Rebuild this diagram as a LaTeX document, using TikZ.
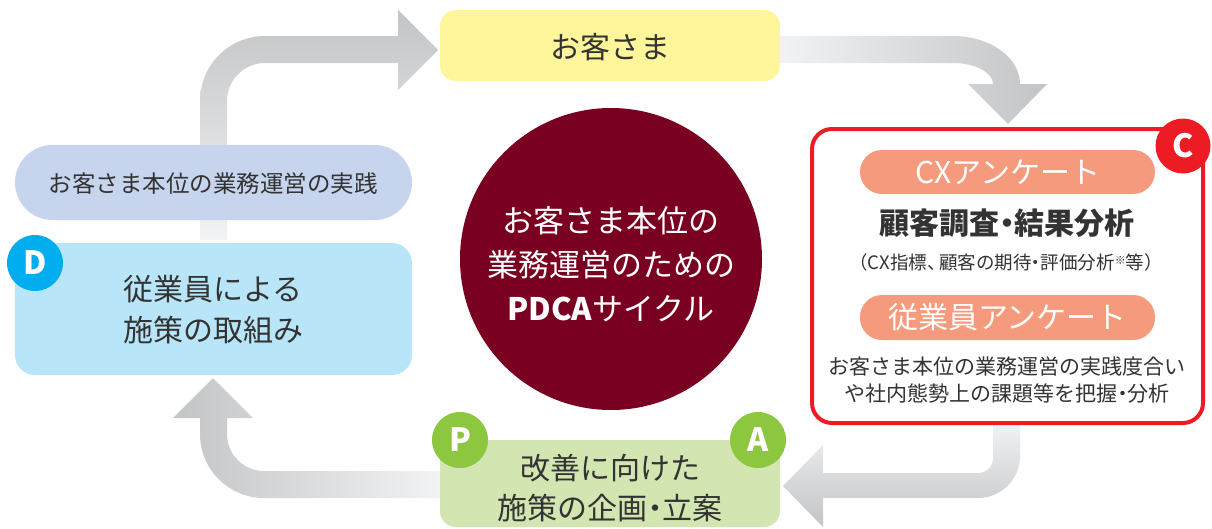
\documentclass[tikz,border=0pt]{standalone}
\usepackage{fontspec}
\setmainfont{Noto Sans CJK JP}
\definecolor{txtc}{HTML}{333333}
\definecolor{yellowc}{HTML}{FFF59B}
\definecolor{lavc}{HTML}{C6D4EE}
\definecolor{dboxc}{HTML}{B9E5F9}
\definecolor{dbluec}{HTML}{00AEEF}
\definecolor{gboxc}{HTML}{D3E5B1}
\definecolor{gcirc}{HTML}{8DC63F}
\definecolor{maroonc}{HTML}{7A0021}
\definecolor{redc}{HTML}{ED1C24}
\definecolor{salmonc}{HTML}{F59A7C}
\definecolor{arrdark}{HTML}{C3C4C6}
\definecolor{arrlight}{HTML}{F2F3F5}
\newcommand{\nkdot}{\hspace{-0.25em}・\hspace{-0.25em}}
\newcommand{\nkcomma}{、\hspace{-0.35em}}
\begin{document}
\begin{tikzpicture}[x=1pt,y=1pt,
  txt/.style={text=txtc, align=center, inner sep=0pt},
  badge/.style={circle, minimum size=56pt, inner sep=0pt, text=white, font=\fontsize{32}{32}\selectfont\bfseries},
  salpill/.style={rounded corners=22pt, fill=salmonc, minimum width=295pt, minimum height=44pt, text=white, inner sep=0pt},
  box/.style={inner sep=0pt},
]
\useasboundingbox (0,0) rectangle (1212,-528);

% ---- arrows ----
% top-left arrow (D -> customer)
\shade[top color=arrdark, bottom color=arrlight]
  (200,-240) -- (200,-101) arc[start angle=180, end angle=90, radius=65]
  -- (398,-36) -- (398,-10) -- (438,-50) -- (398,-90) -- (398,-63)
  -- (265,-63) arc[start angle=90, end angle=180, radius=38]
  -- (227,-240) -- cycle;
% top-right arrow (customer -> C)
\shade[left color=arrlight, right color=arrdark]
  (778,-36) -- (953,-36) arc[start angle=90, end angle=0, x radius=67, y radius=48]
  -- (1047,-84) -- (1008,-124) -- (968,-84) -- (993,-84)
  arc[start angle=0, end angle=90, x radius=40, y radius=21]
  -- (778,-63) -- cycle;
% bottom-right arrow (C -> A)
\shade[top color=arrlight, bottom color=arrdark]
  (993,-420) -- (1020,-420) -- (1020,-456) arc[start angle=0, end angle=-90, radius=42]
  -- (823,-498) -- (823,-527) -- (783,-486) -- (823,-445) -- (823,-473)
  -- (978,-473) arc[start angle=-90, end angle=0, radius=15]
  -- cycle;
% bottom-left arrow (P -> D)
\shade[left color=arrdark, right color=arrlight]
  (442,-471) -- (264,-471) arc[start angle=-90, end angle=-180, radius=37]
  -- (227,-418) -- (253,-418) -- (213,-378) -- (173,-418) -- (200,-418)
  -- (200,-434) arc[start angle=180, end angle=270, radius=64]
  -- (442,-498) -- cycle;

% ---- customer box ----
\node[box, fill=yellowc, rounded corners=16pt, minimum width=340pt, minimum height=71pt] (cust) at (610,-45.5) {};
\node[txt, font=\fontsize{30}{30}\selectfont] (custtxt) at (610,-47) {お客さま};

% ---- center circle ----
\node[circle, fill=maroonc, minimum size=302pt, inner sep=0pt] (pdca) at (611,-259) {};
\node[txt, text=white, font=\fontsize{31}{44}\selectfont] (pdcatxt) at (611,-264)
  {お客さま本位の\\業務運営のための\\{\bfseries PDCA}サイクル};

% ---- practice pill ----
\node[box, fill=lavc, rounded corners=37.5pt, minimum width=397pt, minimum height=75pt] (prac) at (213.5,-182.5) {};
\node[txt, font=\fontsize{23.5}{23.5}\selectfont] (practxt) at (213,-184) {お客さま本位の業務運営の実践};

% ---- D box ----
\node[box, fill=dboxc, rounded corners=20pt, minimum width=397pt, minimum height=132pt] (dbox) at (213.5,-309) {};
\node[txt, font=\fontsize{30}{41}\selectfont] (dtxt) at (213,-310) {従業員による\\施策の取組み};

% ---- P/A box ----
\node[box, fill=gboxc, rounded corners=16pt, minimum width=340pt, minimum height=87pt] (pabox) at (610,-483.5) {};
\node[txt, font=\fontsize{30}{40}\selectfont] (patxt) at (610,-488) {改善に向けた\\施策の企画\nkdot 立案};

% ---- C box ----
\node[box, draw=redc, line width=4pt, fill=white, rounded corners=20pt, minimum width=391pt, minimum height=294pt] (cbox) at (1007.5,-276) {};
\node[salpill] (cxpill) at (1007.5,-172) {\fontsize{30}{30}\selectfont CXアンケート};
\node[txt, font=\fontsize{30}{30}\selectfont\bfseries] (cxhead) at (1007,-223) {顧客調査\nkdot 結果分析};
\node[txt, font=\fontsize{18.5}{18.5}\selectfont] (cxnote) at (1006,-262)
  {（CX指標\nkcomma 顧客の期待\nkdot 評価分析{\fontsize{11}{11}\selectfont\raisebox{5pt}{※}}等）};
\node[salpill, minimum height=45pt] (emppill) at (1007.5,-317.5) {\fontsize{30}{30}\selectfont 従業員アンケート};
\node[txt, font=\fontsize{21}{27}\selectfont] (emptxt) at (1007,-380)
  {お客さま本位の業務運営の実践度合い\\や社内態勢上の課題等を把握\nkdot 分析};

% ---- badges ----
\node[badge, fill=dbluec] (bd) at (35,-263) {D};
\node[badge, fill=gcirc] (bp) at (460,-440) {P};
\node[badge, fill=gcirc] (ba) at (758,-440) {A};
\node[badge, fill=redc, minimum size=55pt] (bc) at (1183,-146) {C};
\end{tikzpicture}
\end{document}
